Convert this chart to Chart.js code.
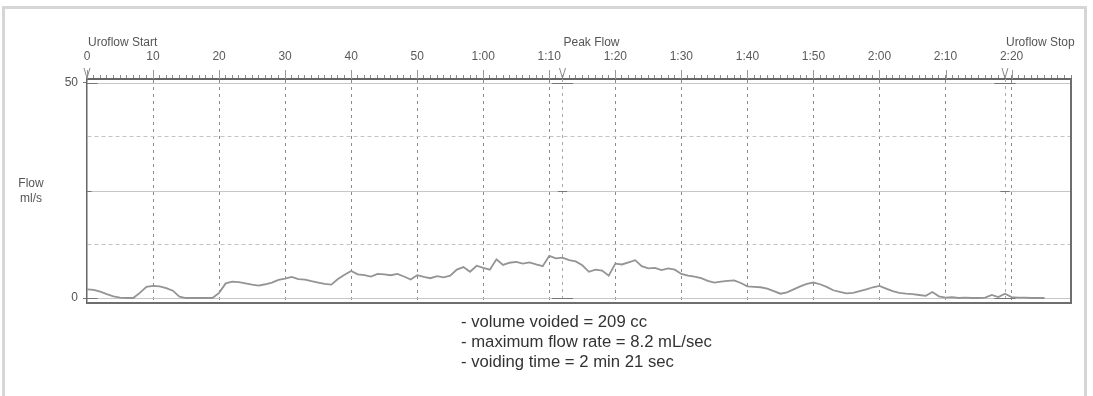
<!DOCTYPE html>
<html>
<head>
<meta charset="utf-8">
<script src="https://cdn.jsdelivr.net/npm/chart.js@4.4.1/dist/chart.umd.min.js"></script>
<style>
  html, body { margin: 0; padding: 0; background: #fff; }
  #wrap { position: relative; width: 1093px; height: 396px; overflow: hidden; background: #fff; }
  #frame { position: absolute; left: 2px; top: 6px; width: 1079px; height: 420px; border: 3px solid #d6d6d6; border-bottom: none; }
  canvas { position: absolute; left: 0; top: 0; }
  .ylab { position: absolute; left: 11px; width: 40px; text-align: center; font: 12px "Liberation Sans", Arial, sans-serif; color: #555; }
  #stats { position: absolute; left: 461px; top: 312px; font: 16.7px "Liberation Sans", Arial, sans-serif; color: #333; line-height: 20px; }
</style>
</head>
<body>
<div id="wrap">
  <div id="frame"></div>
  <canvas id="c" width="1093" height="396"></canvas>
  <div class="ylab" style="top:176px">Flow</div>
  <div class="ylab" style="top:191px">ml/s</div>
  <div id="stats">
    <div>- volume voided = 209 cc</div>
    <div>- maximum flow rate = 8.2 mL/sec</div>
    <div>- voiding time = 2 min 21 sec</div>
  </div>
</div>
<script>
// ---- data (flow in ml/s, one sample per second starting at 0 s) ----
const flowValues = [
  2.0, 1.9, 1.5, 0.9, 0.4, 0.1, 0.0, 0.0, 1.2, 2.6,
  2.8, 2.7, 2.3, 1.7, 0.3, 0.0, 0.0, 0.0, 0.0, 0.0,
  1.2, 3.4, 3.8, 3.7, 3.4, 3.1, 2.9, 3.2, 3.6, 4.2,
  4.5, 4.9, 4.4, 4.3, 3.9, 3.6, 3.3, 3.1, 4.4, 5.4,
  6.3, 5.5, 5.3, 5.0, 5.6, 5.5, 5.3, 5.6, 5.0, 4.3,
  5.3, 4.9, 4.6, 5.1, 4.8, 5.2, 6.6, 7.2, 6.1, 7.5,
  7.0, 6.6, 9.0, 7.7, 8.2, 8.4, 8.0, 8.3, 7.8, 7.4,
  9.8, 9.2, 9.4, 8.8, 8.5, 7.6, 6.1, 6.6, 6.4, 5.2,
  8.0, 7.8, 8.3, 8.8, 7.4, 6.9, 7.0, 6.5, 6.9, 6.6,
  5.6, 5.2, 5.0, 4.6, 4.0, 3.6, 3.8, 4.0, 4.1, 3.5,
  2.7, 2.6, 2.5, 2.2, 1.6, 1.0, 1.3, 2.0, 2.7, 3.3,
  3.6, 3.2, 2.6, 1.8, 1.4, 1.1, 1.2, 1.6, 2.0, 2.5,
  2.8, 2.2, 1.6, 1.2, 1.0, 0.9, 0.7, 0.5, 1.4, 0.4,
  0.1, 0.2, 0.0, 0.1, 0.0, 0.0, 0.1, 0.7, 0.2, 1.0,
  0.2, 0.1, 0.1, 0.0, 0.0, 0.0
];
const majorTickSeconds = [0, 10, 20, 30, 40, 50, 60, 70, 80, 90, 100, 110, 120, 130, 140];
const majorTickLabels  = ['0','10','20','30','40','50','1:00','1:10','1:20','1:30','1:40','1:50','2:00','2:10','2:20'];
const markerTimes  = [0, 72, 139];
const markerLabels = ['Uroflow Start', 'Peak Flow', 'Uroflow Stop'];
const yLabelValues = [0, 50];
const ySolidGrid   = [0, 25, 50];
const yDashedGrid  = [12.5, 37.5];
const xMin = 0, xMax = 149, yMin = -1.16, yMax = 50.93;

const points = flowValues.map((v, i) => ({ x: i, y: v }));
const FONT = '"Liberation Sans", Arial, sans-serif';

const guides = {
  id: 'guides',
  beforeDatasetsDraw(chart) {
    const { ctx, chartArea: a, scales: { x, y } } = chart;
    ctx.save();
    ctx.lineWidth = 1;
    ctx.strokeStyle = '#c6c6c6';
    ySolidGrid.forEach(v => {
      const py = Math.round(y.getPixelForValue(v)) + 0.5;
      ctx.beginPath(); ctx.moveTo(a.left, py); ctx.lineTo(a.right, py); ctx.stroke();
    });
    // marker dashed verticals
    ctx.setLineDash([3, 4]);
    ctx.strokeStyle = '#a8a8a8';
    markerTimes.slice(1).forEach(t => {
      const px = Math.round(x.getPixelForValue(t)) + 0.5;
      ctx.beginPath(); ctx.moveTo(px, a.top); ctx.lineTo(px, a.bottom); ctx.stroke();
    });
    ctx.restore();
  },
  afterDatasetsDraw(chart) {
    const { ctx, chartArea: a, scales: { x, y } } = chart;
    ctx.save();
    // right + bottom frame
    ctx.strokeStyle = '#6e6e6e';
    ctx.lineWidth = 2;
    ctx.beginPath();
    ctx.moveTo(a.right, a.top); ctx.lineTo(a.right, a.bottom); ctx.lineTo(a.left, a.bottom);
    ctx.stroke();
    // major ticks on top axis
    ctx.lineWidth = 1;
    ctx.strokeStyle = '#999';
    majorTickSeconds.forEach(t => {
      const px = Math.round(x.getPixelForValue(t)) + 0.5;
      ctx.beginPath(); ctx.moveTo(px, a.top - 9); ctx.lineTo(px, a.top); ctx.stroke();
    });
    // marker short segments
    ctx.strokeStyle = '#777';
    markerTimes.forEach(t => {
      [50, 25, 0].forEach(v => {
        const py = Math.round(y.getPixelForValue(v)) + 0.5;
        const w = v === 25 ? 0.7 : 1.6;
        ctx.beginPath();
        ctx.moveTo(x.getPixelForValue(Math.max(xMin, t - w)), py);
        ctx.lineTo(x.getPixelForValue(Math.min(xMax, t + w)), py);
        ctx.stroke();
      });
    });
    // V markers + labels
    ctx.strokeStyle = '#888';
    ctx.fillStyle = '#555';
    ctx.font = '12px ' + FONT;
    ctx.textAlign = 'left';
    ctx.textBaseline = 'middle';
    markerTimes.forEach((t, i) => {
      const px = x.getPixelForValue(t);
      ctx.beginPath();
      ctx.moveTo(px - 3, a.top - 11); ctx.lineTo(px, a.top - 1); ctx.lineTo(px + 3, a.top - 11);
      ctx.stroke();
      ctx.fillText(markerLabels[i], px + 1, a.top - 36);
    });
    ctx.restore();
  }
};

new Chart(document.getElementById('c'), {
  type: 'line',
  data: {
    datasets: [{
      data: points,
      borderColor: '#949494',
      borderWidth: 1.8,
      pointRadius: 0,
      tension: 0,
      fill: false
    }]
  },
  options: {
    responsive: false,
    animation: false,
    devicePixelRatio: 1,
    layout: { padding: { left: 0, right: 22, top: 0, bottom: 93 } },
    plugins: { legend: { display: false }, tooltip: { enabled: false } },
    scales: {
      x: {
        type: 'linear',
        position: 'top',
        min: xMin, max: xMax,
        afterBuildTicks: s => {
          const t = [];
          for (let v = xMin; v <= xMax; v++) t.push({ value: v });
          s.ticks = t;
        },
        afterFit: s => { s.height = 79; },
        ticks: {
          autoSkip: false, maxRotation: 0, minRotation: 0, padding: 11,
          color: '#5a5a5a', font: { size: 12, family: FONT },
          callback: v => {
            const i = majorTickSeconds.indexOf(v);
            return i >= 0 ? majorTickLabels[i] : '';
          }
        },
        grid: {
          drawOnChartArea: true,
          tickLength: 4,
          tickColor: '#8a8a8a',
          color: c => (c.tick && c.tick.value > 0 && majorTickSeconds.includes(c.tick.value)) ? '#8c8c8c' : 'rgba(0,0,0,0)',
          lineWidth: 1
        },
        border: { display: true, color: '#666', width: 2, dash: [3, 4] }
      },
      y: {
        type: 'linear',
        min: yMin, max: yMax,
        afterBuildTicks: s => { s.ticks = [...ySolidGrid, ...yDashedGrid].sort((a, b) => a - b).map(v => ({ value: v })); },
        afterFit: s => { s.width = 87; },
        ticks: {
          padding: 5, color: '#555', font: { size: 12, family: FONT },
          callback: v => yLabelValues.includes(v) ? String(v) : ''
        },
        grid: {
          tickLength: 4,
          tickColor: c => (c.tick && yLabelValues.includes(c.tick.value)) ? '#777' : 'rgba(0,0,0,0)',
          color: c => (c.tick && yDashedGrid.includes(c.tick.value)) ? '#c4c4c4' : 'rgba(0,0,0,0)',
          lineWidth: 1
        },
        border: { display: true, color: '#666', width: 1.5, dash: [4, 3] }
      }
    }
  },
  plugins: [guides]
});
</script>
</body>
</html>
